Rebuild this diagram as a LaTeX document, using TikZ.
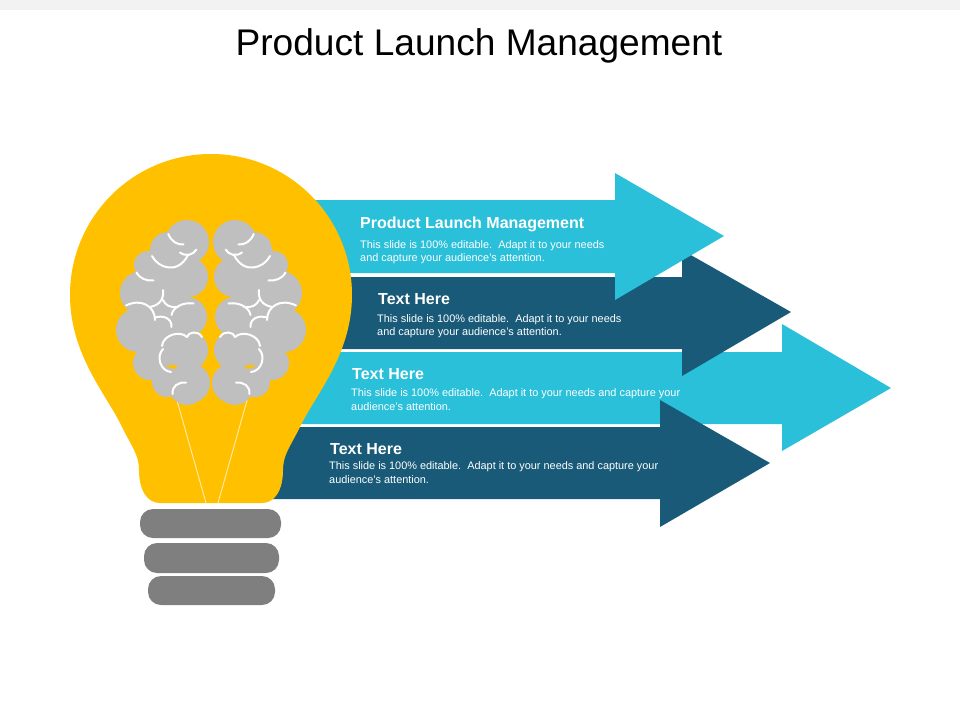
\documentclass[tikz,border=0pt]{standalone}
\usepackage{fontspec}
\setmainfont{Liberation Sans}
\usepackage{tikz}
\definecolor{lightblue}{HTML}{2AC0DA}
\definecolor{darkblue}{HTML}{185A78}
\definecolor{bulbyellow}{HTML}{FFC000}
\definecolor{screwgray}{HTML}{7F7F7F}
\definecolor{braingray}{HTML}{BFBFBF}
\tikzset{
  headtext/.style={anchor=west,inner sep=0pt,text=white,font=\fontsize{16}{18}\selectfont\bfseries},
  bodytext/.style={anchor=west,inner sep=0pt,text=white,align=left,font=\fontsize{10.9}{13.3}\selectfont},
  screw/.style={fill=screwgray,rounded corners=13pt},
  fold/.style={draw=white,line width=2pt,line cap=round},
  wire/.style={draw=white!70!bulbyellow,line width=0.9pt}
}
\newcommand{\brainhalf}{
\foreach \cx/\cy/\r in {187/242/22,168/250/18,148/265/14,142/293/22,138/330/22,150/363/17,167/382/15,187/387/18,
  188/277/20,187/317/20,188/350/20,190/383/20,165/300/25,170/340/25,170/270/20}
  \fill[braingray] (\cx,\cy) circle (\r);
\draw[fold] (168.3,234) .. controls (171,241) and (177,245) .. (183.5,244.5);
\draw[fold] (152,256) .. controls (158,268) and (178,275) .. (188,255);
\draw[fold] (180,252.5) .. controls (186,257) and (193,255) .. (196.5,249.5);
\draw[fold] (136.5,272.5) .. controls (140,279) and (147,281) .. (153.5,280.5);
\draw[fold] (126,305.5) .. controls (141,298) and (155,306) .. (155,320);
\draw[fold] (150,307) .. controls (160,305) and (164,299) .. (163,290);
\draw[fold] (163,300) .. controls (165,305) and (170,308) .. (178,307);
\draw[fold] (171.5,315) .. controls (173,307) and (183,302) .. (193.5,303.5);
\draw[fold] (155,317.5) .. controls (163,315) and (172,318) .. (171.5,327);
\draw[fold] (171,372) .. controls (160,371) and (156,356) .. (163,349);
\draw[fold] (162,346) .. controls (163,335) and (180,330) .. (187,337);
\draw[fold] (187,337) .. controls (188,332) and (198,330) .. (202,337);
\draw[fold] (172.5,394) .. controls (172,386) and (178,382) .. (186,382.5);
}
\begin{document}
\begin{tikzpicture}[x=1pt,y=-1pt]
\useasboundingbox (0,0) rectangle (960,720);
\fill[gray!10] (0,0) rectangle (960,10);
\node[inner sep=0pt,font=\fontsize{37.1}{40}\selectfont] (title) at (479,46) {Product Launch Management};
% arrows
\fill[lightblue] (280,352) -- (782,352) -- (782,324) -- (891,388) -- (782,451) -- (782,424) -- (280,424) -- cycle;
\fill[darkblue] (250,427) -- (660,427) -- (660,400) -- (770,463) -- (660,527) -- (660,499) -- (250,499) -- cycle;
\fill[darkblue] (300,277) -- (682,277) -- (682,250) -- (791,312) -- (682,376) -- (682,349) -- (300,349) -- cycle;
\fill[lightblue] (300,200) -- (615,200) -- (615,173) -- (724,236) -- (615,300) -- (615,273) -- (300,273) -- cycle;
% bulb
\fill[bulbyellow] (211,154) .. controls (289,154) and (352,217) .. (352,295)
  .. controls (352,355) and (315,395) .. (300,427)
  .. controls (290,447) and (283,455) .. (283,470)
  .. controls (283,490) and (275,503) .. (262,503)
  -- (160,503)
  .. controls (147,503) and (139,490) .. (139,470)
  .. controls (139,455) and (132,447) .. (122,427)
  .. controls (107,395) and (70,355) .. (70,295)
  .. controls (70,217) and (133,154) .. (211,154) -- cycle;
\draw[wire] (176,397) -- (206,503);
\draw[wire] (248,397) -- (218,503);
\fill[screw] (140,509) rectangle (281,538);
\fill[screw] (144,543) rectangle (279,573);
\fill[screw] (148,576) rectangle (275,605);
% brain
\brainhalf
\begin{scope}[xshift=422pt,xscale=-1]
\brainhalf
\end{scope}
% labels
\node[headtext] (head1) at (360,224) {Product Launch Management};
\node[bodytext] (body1) at (360,252) {This slide is 100\% editable.\ \ Adapt it to your needs\\and capture your audience's attention.};
\node[headtext] (head2) at (378,299) {Text Here};
\node[bodytext] (body2) at (377,326) {This slide is 100\% editable.\ \ Adapt it to your needs\\and capture your audience's attention.};
\node[headtext] (head3) at (352,374) {Text Here};
\node[bodytext] (body3) at (351,399.5) {This slide is 100\% editable.\ \ Adapt it to your needs and capture your\\audience's attention.};
\node[headtext] (head4) at (330,449) {Text Here};
\node[bodytext] (body4) at (329,472.5) {This slide is 100\% editable.\ \ Adapt it to your needs and capture your\\audience's attention.};
\end{tikzpicture}
\end{document}
